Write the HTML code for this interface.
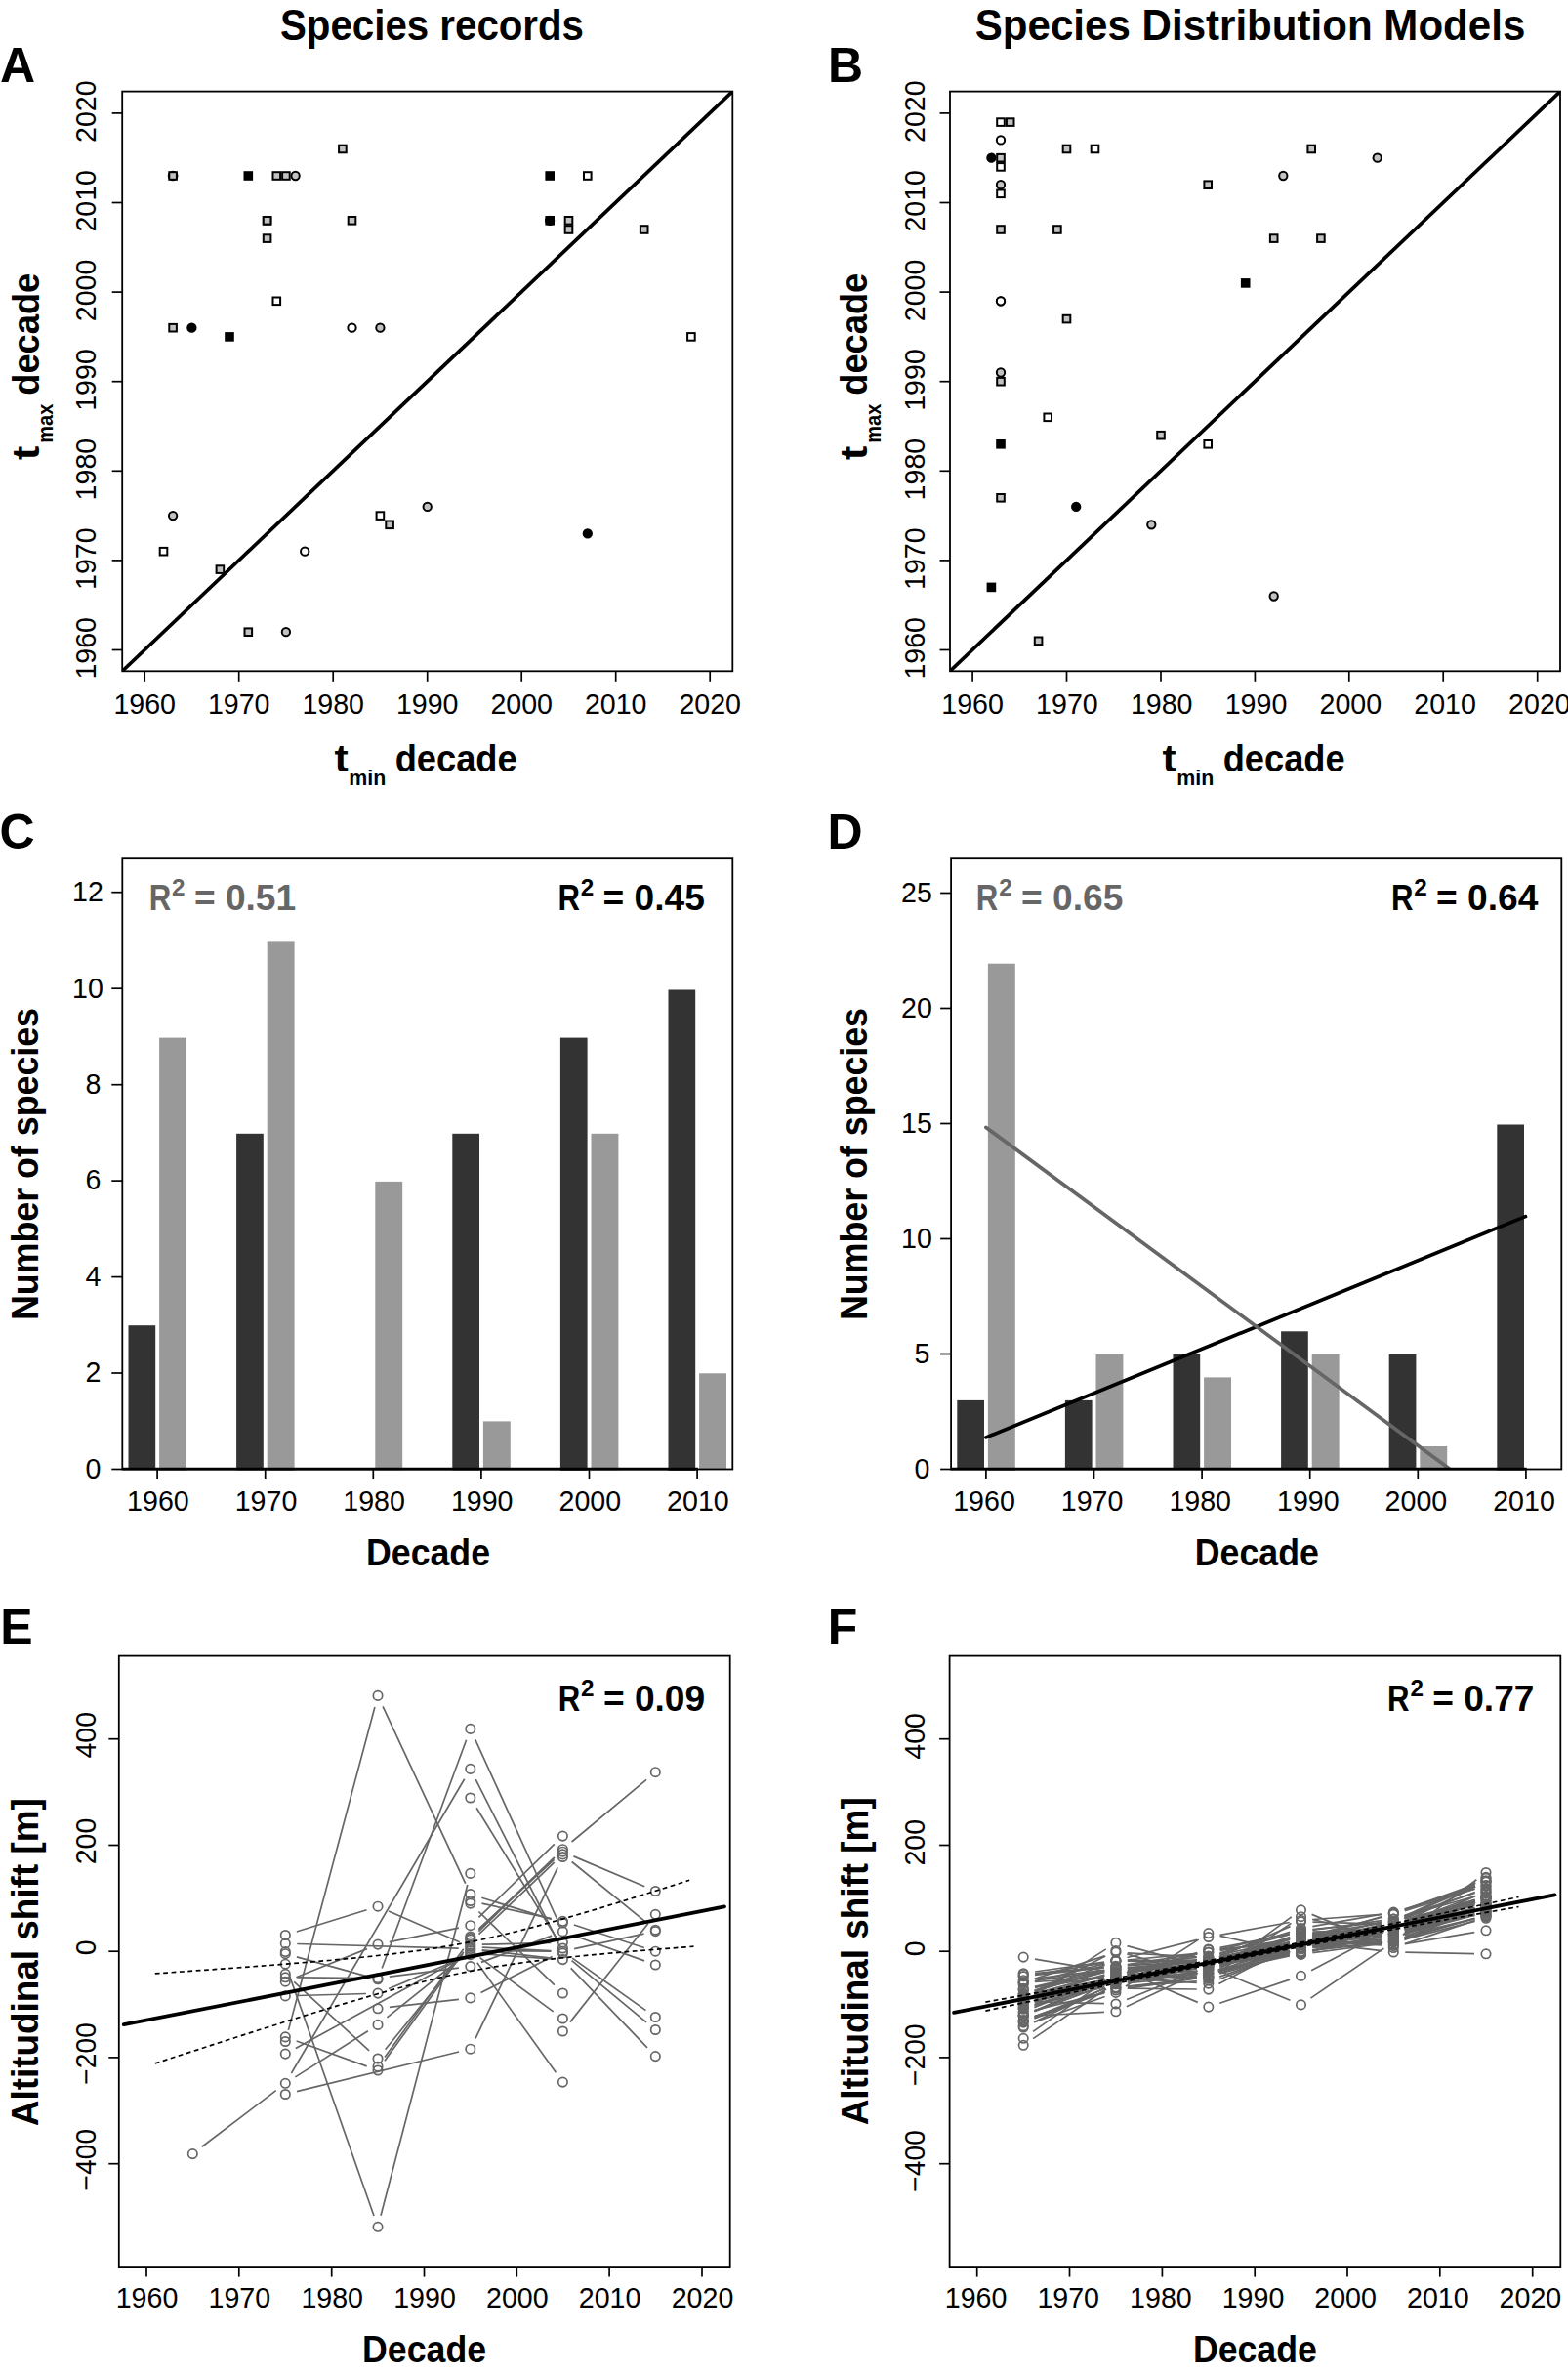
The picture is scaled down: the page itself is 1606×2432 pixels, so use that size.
<!DOCTYPE html>
<html lang="en"><head><meta charset="utf-8"><title>Figure</title>
<style>html,body{margin:0;padding:0;background:#fff}svg{display:block}</style></head>
<body>
<svg width="1606" height="2432" viewBox="0 0 1606 2432" font-family="&quot;Liberation Sans&quot;, sans-serif">
<rect width="1606" height="2432" fill="#fff"/>
<text x="287.0" y="41.3" font-size="44" font-weight="bold" textLength="311.0" lengthAdjust="spacingAndGlyphs">Species records</text>
<text x="998.8" y="41.0" font-size="44" font-weight="bold" textLength="563.5" lengthAdjust="spacingAndGlyphs">Species Distribution Models</text>
<text x="0.0" y="83.7" font-size="50" font-weight="bold">A</text>
<text x="848.0" y="83.8" font-size="50" font-weight="bold">B</text>
<text x="-0.4" y="869.3" font-size="50" font-weight="bold">C</text>
<text x="847.4" y="868.9" font-size="50" font-weight="bold">D</text>
<text x="0.2" y="1682.8" font-size="50" font-weight="bold">E</text>
<text x="847.8" y="1682.8" font-size="50" font-weight="bold">F</text>
<clipPath id="c125"><rect x="125.2" y="93.6" width="625.1" height="593.7"/></clipPath>
<line x1="120.2" y1="692.0" x2="755.3" y2="88.9" stroke="#000" stroke-width="3.7" clip-path="url(#c125)"/>
<circle cx="177.1" cy="180.0" r="4.35" fill="#fff" stroke="#000" stroke-width="2"/>
<rect x="173.3" y="176.2" width="7.6" height="7.6" fill="#c2c2c2" stroke="#000" stroke-width="2"/>
<rect x="250.5" y="176.2" width="7.6" height="7.6" fill="#000" stroke="#000" stroke-width="2"/>
<rect x="279.5" y="176.2" width="7.6" height="7.6" fill="#c2c2c2" stroke="#000" stroke-width="2"/>
<rect x="289.1" y="176.2" width="7.6" height="7.6" fill="#c2c2c2" stroke="#000" stroke-width="2"/>
<circle cx="302.6" cy="180.0" r="4.15" fill="#c2c2c2" stroke="#000" stroke-width="2"/>
<rect x="347.1" y="148.7" width="7.6" height="7.6" fill="#c2c2c2" stroke="#000" stroke-width="2"/>
<rect x="559.4" y="176.2" width="7.6" height="7.6" fill="#000" stroke="#000" stroke-width="2"/>
<rect x="598.0" y="176.2" width="7.6" height="7.6" fill="#fff" stroke="#000" stroke-width="2"/>
<rect x="269.8" y="222.0" width="7.6" height="7.6" fill="#c2c2c2" stroke="#000" stroke-width="2"/>
<rect x="269.8" y="222.0" width="7.6" height="7.6" fill="#c2c2c2" stroke="#000" stroke-width="2"/>
<rect x="269.8" y="240.3" width="7.6" height="7.6" fill="#c2c2c2" stroke="#000" stroke-width="2"/>
<rect x="356.7" y="222.0" width="7.6" height="7.6" fill="#c2c2c2" stroke="#000" stroke-width="2"/>
<rect x="559.4" y="222.0" width="7.6" height="7.6" fill="#000" stroke="#000" stroke-width="2"/>
<circle cx="563.1" cy="225.8" r="4.15" fill="#000" stroke="#000" stroke-width="2"/>
<rect x="578.7" y="222.0" width="7.6" height="7.6" fill="#c2c2c2" stroke="#000" stroke-width="2"/>
<rect x="578.7" y="231.2" width="7.6" height="7.6" fill="#c2c2c2" stroke="#000" stroke-width="2"/>
<rect x="655.9" y="231.2" width="7.6" height="7.6" fill="#c2c2c2" stroke="#000" stroke-width="2"/>
<rect x="279.5" y="304.5" width="7.6" height="7.6" fill="#fff" stroke="#000" stroke-width="2"/>
<rect x="173.3" y="331.9" width="7.6" height="7.6" fill="#c2c2c2" stroke="#000" stroke-width="2"/>
<circle cx="196.4" cy="335.7" r="4.15" fill="#000" stroke="#000" stroke-width="2"/>
<rect x="231.2" y="341.1" width="7.6" height="7.6" fill="#000" stroke="#000" stroke-width="2"/>
<circle cx="360.5" cy="335.7" r="4.15" fill="#fff" stroke="#000" stroke-width="2"/>
<circle cx="389.4" cy="335.7" r="4.15" fill="#c2c2c2" stroke="#000" stroke-width="2"/>
<rect x="704.1" y="341.1" width="7.6" height="7.6" fill="#fff" stroke="#000" stroke-width="2"/>
<circle cx="177.1" cy="528.1" r="4.15" fill="#c2c2c2" stroke="#000" stroke-width="2"/>
<rect x="163.7" y="560.9" width="7.6" height="7.6" fill="#fff" stroke="#000" stroke-width="2"/>
<rect x="221.6" y="579.3" width="7.6" height="7.6" fill="#c2c2c2" stroke="#000" stroke-width="2"/>
<circle cx="312.2" cy="564.7" r="4.15" fill="#fff" stroke="#000" stroke-width="2"/>
<rect x="385.6" y="524.3" width="7.6" height="7.6" fill="#fff" stroke="#000" stroke-width="2"/>
<rect x="395.3" y="533.5" width="7.6" height="7.6" fill="#c2c2c2" stroke="#000" stroke-width="2"/>
<circle cx="437.7" cy="518.9" r="4.15" fill="#c2c2c2" stroke="#000" stroke-width="2"/>
<circle cx="601.8" cy="546.4" r="4.15" fill="#000" stroke="#000" stroke-width="2"/>
<rect x="250.5" y="643.4" width="7.6" height="7.6" fill="#c2c2c2" stroke="#000" stroke-width="2"/>
<circle cx="292.9" cy="647.2" r="4.15" fill="#c2c2c2" stroke="#000" stroke-width="2"/>
<rect x="125.2" y="93.6" width="625.1" height="593.7" fill="none" stroke="#000" stroke-width="1.8"/>
<line x1="148.2" y1="687.3" x2="148.2" y2="697.8" stroke="#000" stroke-width="1.7"/>
<text x="148.2" y="731.1" font-size="28.6" text-anchor="middle" textLength="63.6" lengthAdjust="spacingAndGlyphs">1960</text>
<line x1="114.7" y1="665.5" x2="125.2" y2="665.5" stroke="#000" stroke-width="1.7"/>
<text transform="translate(97.8,663.8) rotate(-90)" font-size="28.6" text-anchor="middle" textLength="63.6" lengthAdjust="spacingAndGlyphs">1960</text>
<line x1="244.7" y1="687.3" x2="244.7" y2="697.8" stroke="#000" stroke-width="1.7"/>
<text x="244.7" y="731.1" font-size="28.6" text-anchor="middle" textLength="63.6" lengthAdjust="spacingAndGlyphs">1970</text>
<line x1="114.7" y1="573.9" x2="125.2" y2="573.9" stroke="#000" stroke-width="1.7"/>
<text transform="translate(97.8,572.2) rotate(-90)" font-size="28.6" text-anchor="middle" textLength="63.6" lengthAdjust="spacingAndGlyphs">1970</text>
<line x1="341.2" y1="687.3" x2="341.2" y2="697.8" stroke="#000" stroke-width="1.7"/>
<text x="341.2" y="731.1" font-size="28.6" text-anchor="middle" textLength="63.6" lengthAdjust="spacingAndGlyphs">1980</text>
<line x1="114.7" y1="482.3" x2="125.2" y2="482.3" stroke="#000" stroke-width="1.7"/>
<text transform="translate(97.8,480.6) rotate(-90)" font-size="28.6" text-anchor="middle" textLength="63.6" lengthAdjust="spacingAndGlyphs">1980</text>
<line x1="437.7" y1="687.3" x2="437.7" y2="697.8" stroke="#000" stroke-width="1.7"/>
<text x="437.7" y="731.1" font-size="28.6" text-anchor="middle" textLength="63.6" lengthAdjust="spacingAndGlyphs">1990</text>
<line x1="114.7" y1="390.7" x2="125.2" y2="390.7" stroke="#000" stroke-width="1.7"/>
<text transform="translate(97.8,389.0) rotate(-90)" font-size="28.6" text-anchor="middle" textLength="63.6" lengthAdjust="spacingAndGlyphs">1990</text>
<line x1="534.2" y1="687.3" x2="534.2" y2="697.8" stroke="#000" stroke-width="1.7"/>
<text x="534.2" y="731.1" font-size="28.6" text-anchor="middle" textLength="63.6" lengthAdjust="spacingAndGlyphs">2000</text>
<line x1="114.7" y1="299.1" x2="125.2" y2="299.1" stroke="#000" stroke-width="1.7"/>
<text transform="translate(97.8,297.4) rotate(-90)" font-size="28.6" text-anchor="middle" textLength="63.6" lengthAdjust="spacingAndGlyphs">2000</text>
<line x1="630.7" y1="687.3" x2="630.7" y2="697.8" stroke="#000" stroke-width="1.7"/>
<text x="630.7" y="731.1" font-size="28.6" text-anchor="middle" textLength="63.6" lengthAdjust="spacingAndGlyphs">2010</text>
<line x1="114.7" y1="207.5" x2="125.2" y2="207.5" stroke="#000" stroke-width="1.7"/>
<text transform="translate(97.8,205.8) rotate(-90)" font-size="28.6" text-anchor="middle" textLength="63.6" lengthAdjust="spacingAndGlyphs">2010</text>
<line x1="727.2" y1="687.3" x2="727.2" y2="697.8" stroke="#000" stroke-width="1.7"/>
<text x="727.2" y="731.1" font-size="28.6" text-anchor="middle" textLength="63.6" lengthAdjust="spacingAndGlyphs">2020</text>
<line x1="114.7" y1="115.9" x2="125.2" y2="115.9" stroke="#000" stroke-width="1.7"/>
<text transform="translate(97.8,114.2) rotate(-90)" font-size="28.6" text-anchor="middle" textLength="63.6" lengthAdjust="spacingAndGlyphs">2020</text>
<clipPath id="c973"><rect x="973.0" y="93.6" width="625.0" height="593.7"/></clipPath>
<line x1="968.0" y1="692.0" x2="1603.0" y2="88.9" stroke="#000" stroke-width="3.7" clip-path="url(#c973)"/>
<rect x="1021.2" y="121.3" width="7.6" height="7.6" fill="#fff" stroke="#000" stroke-width="2"/>
<rect x="1030.9" y="121.3" width="7.6" height="7.6" fill="#c2c2c2" stroke="#000" stroke-width="2"/>
<circle cx="1025.0" cy="143.4" r="4.15" fill="#fff" stroke="#000" stroke-width="2"/>
<circle cx="1015.4" cy="161.7" r="4.15" fill="#000" stroke="#000" stroke-width="2"/>
<rect x="1021.2" y="157.9" width="7.6" height="7.6" fill="#c2c2c2" stroke="#000" stroke-width="2"/>
<rect x="1021.2" y="167.1" width="7.6" height="7.6" fill="#fff" stroke="#000" stroke-width="2"/>
<circle cx="1025.0" cy="189.2" r="4.15" fill="#c2c2c2" stroke="#000" stroke-width="2"/>
<rect x="1021.2" y="194.5" width="7.6" height="7.6" fill="#fff" stroke="#000" stroke-width="2"/>
<rect x="1021.2" y="231.2" width="7.6" height="7.6" fill="#c2c2c2" stroke="#000" stroke-width="2"/>
<rect x="1088.7" y="148.7" width="7.6" height="7.6" fill="#c2c2c2" stroke="#000" stroke-width="2"/>
<rect x="1117.7" y="148.7" width="7.6" height="7.6" fill="#fff" stroke="#000" stroke-width="2"/>
<rect x="1339.4" y="148.7" width="7.6" height="7.6" fill="#c2c2c2" stroke="#000" stroke-width="2"/>
<circle cx="1410.7" cy="161.7" r="4.15" fill="#c2c2c2" stroke="#000" stroke-width="2"/>
<circle cx="1314.3" cy="180.0" r="4.15" fill="#c2c2c2" stroke="#000" stroke-width="2"/>
<rect x="1233.4" y="185.4" width="7.6" height="7.6" fill="#c2c2c2" stroke="#000" stroke-width="2"/>
<rect x="1079.1" y="231.2" width="7.6" height="7.6" fill="#c2c2c2" stroke="#000" stroke-width="2"/>
<rect x="1300.9" y="240.3" width="7.6" height="7.6" fill="#c2c2c2" stroke="#000" stroke-width="2"/>
<rect x="1349.1" y="240.3" width="7.6" height="7.6" fill="#c2c2c2" stroke="#000" stroke-width="2"/>
<rect x="1271.9" y="286.1" width="7.6" height="7.6" fill="#000" stroke="#000" stroke-width="2"/>
<circle cx="1025.0" cy="308.3" r="4.15" fill="#fff" stroke="#000" stroke-width="2"/>
<circle cx="1025.0" cy="308.3" r="4.15" fill="#fff" stroke="#000" stroke-width="2"/>
<rect x="1088.7" y="322.8" width="7.6" height="7.6" fill="#c2c2c2" stroke="#000" stroke-width="2"/>
<circle cx="1025.0" cy="381.5" r="4.15" fill="#c2c2c2" stroke="#000" stroke-width="2"/>
<rect x="1021.2" y="386.9" width="7.6" height="7.6" fill="#c2c2c2" stroke="#000" stroke-width="2"/>
<rect x="1069.4" y="423.5" width="7.6" height="7.6" fill="#fff" stroke="#000" stroke-width="2"/>
<rect x="1185.2" y="441.9" width="7.6" height="7.6" fill="#c2c2c2" stroke="#000" stroke-width="2"/>
<rect x="1233.4" y="451.0" width="7.6" height="7.6" fill="#fff" stroke="#000" stroke-width="2"/>
<rect x="1021.2" y="451.0" width="7.6" height="7.6" fill="#000" stroke="#000" stroke-width="2"/>
<rect x="1021.2" y="506.0" width="7.6" height="7.6" fill="#c2c2c2" stroke="#000" stroke-width="2"/>
<circle cx="1102.2" cy="518.9" r="4.15" fill="#000" stroke="#000" stroke-width="2"/>
<circle cx="1179.3" cy="537.3" r="4.15" fill="#c2c2c2" stroke="#000" stroke-width="2"/>
<rect x="1011.6" y="597.6" width="7.6" height="7.6" fill="#000" stroke="#000" stroke-width="2"/>
<circle cx="1304.7" cy="610.5" r="4.15" fill="#c2c2c2" stroke="#000" stroke-width="2"/>
<rect x="1059.8" y="652.5" width="7.6" height="7.6" fill="#c2c2c2" stroke="#000" stroke-width="2"/>
<rect x="973.0" y="93.6" width="625.0" height="593.7" fill="none" stroke="#000" stroke-width="1.8"/>
<line x1="996.1" y1="687.3" x2="996.1" y2="697.8" stroke="#000" stroke-width="1.7"/>
<text x="996.1" y="731.1" font-size="28.6" text-anchor="middle" textLength="63.6" lengthAdjust="spacingAndGlyphs">1960</text>
<line x1="962.5" y1="665.5" x2="973.0" y2="665.5" stroke="#000" stroke-width="1.7"/>
<text transform="translate(946.8,663.8) rotate(-90)" font-size="28.6" text-anchor="middle" textLength="63.6" lengthAdjust="spacingAndGlyphs">1960</text>
<line x1="1092.5" y1="687.3" x2="1092.5" y2="697.8" stroke="#000" stroke-width="1.7"/>
<text x="1092.9" y="731.1" font-size="28.6" text-anchor="middle" textLength="63.6" lengthAdjust="spacingAndGlyphs">1970</text>
<line x1="962.5" y1="573.9" x2="973.0" y2="573.9" stroke="#000" stroke-width="1.7"/>
<text transform="translate(946.8,572.2) rotate(-90)" font-size="28.6" text-anchor="middle" textLength="63.6" lengthAdjust="spacingAndGlyphs">1970</text>
<line x1="1189.0" y1="687.3" x2="1189.0" y2="697.8" stroke="#000" stroke-width="1.7"/>
<text x="1189.7" y="731.1" font-size="28.6" text-anchor="middle" textLength="63.6" lengthAdjust="spacingAndGlyphs">1980</text>
<line x1="962.5" y1="482.3" x2="973.0" y2="482.3" stroke="#000" stroke-width="1.7"/>
<text transform="translate(946.8,480.6) rotate(-90)" font-size="28.6" text-anchor="middle" textLength="63.6" lengthAdjust="spacingAndGlyphs">1980</text>
<line x1="1285.4" y1="687.3" x2="1285.4" y2="697.8" stroke="#000" stroke-width="1.7"/>
<text x="1286.5" y="731.1" font-size="28.6" text-anchor="middle" textLength="63.6" lengthAdjust="spacingAndGlyphs">1990</text>
<line x1="962.5" y1="390.7" x2="973.0" y2="390.7" stroke="#000" stroke-width="1.7"/>
<text transform="translate(946.8,389.0) rotate(-90)" font-size="28.6" text-anchor="middle" textLength="63.6" lengthAdjust="spacingAndGlyphs">1990</text>
<line x1="1381.8" y1="687.3" x2="1381.8" y2="697.8" stroke="#000" stroke-width="1.7"/>
<text x="1383.3" y="731.1" font-size="28.6" text-anchor="middle" textLength="63.6" lengthAdjust="spacingAndGlyphs">2000</text>
<line x1="962.5" y1="299.1" x2="973.0" y2="299.1" stroke="#000" stroke-width="1.7"/>
<text transform="translate(946.8,297.4) rotate(-90)" font-size="28.6" text-anchor="middle" textLength="63.6" lengthAdjust="spacingAndGlyphs">2000</text>
<line x1="1478.2" y1="687.3" x2="1478.2" y2="697.8" stroke="#000" stroke-width="1.7"/>
<text x="1480.1" y="731.1" font-size="28.6" text-anchor="middle" textLength="63.6" lengthAdjust="spacingAndGlyphs">2010</text>
<line x1="962.5" y1="207.5" x2="973.0" y2="207.5" stroke="#000" stroke-width="1.7"/>
<text transform="translate(946.8,205.8) rotate(-90)" font-size="28.6" text-anchor="middle" textLength="63.6" lengthAdjust="spacingAndGlyphs">2010</text>
<line x1="1574.7" y1="687.3" x2="1574.7" y2="697.8" stroke="#000" stroke-width="1.7"/>
<text x="1576.9" y="731.1" font-size="28.6" text-anchor="middle" textLength="63.6" lengthAdjust="spacingAndGlyphs">2020</text>
<line x1="962.5" y1="115.9" x2="973.0" y2="115.9" stroke="#000" stroke-width="1.7"/>
<text transform="translate(946.8,114.2) rotate(-90)" font-size="28.6" text-anchor="middle" textLength="63.6" lengthAdjust="spacingAndGlyphs">2020</text>
<text x="342.4" y="789.7" font-size="38" font-weight="bold" textLength="14.2" lengthAdjust="spacingAndGlyphs">t</text>
<text x="357.3" y="803.5" font-size="22" font-weight="bold" textLength="38.0" lengthAdjust="spacingAndGlyphs">min</text>
<text x="404.7" y="789.7" font-size="38" font-weight="bold" textLength="125.0" lengthAdjust="spacingAndGlyphs">decade</text>
<text transform="translate(39.5,471.0) rotate(-90)" font-size="38" font-weight="bold" textLength="14.2" lengthAdjust="spacingAndGlyphs">t</text>
<text transform="translate(53.6,453.7) rotate(-90)" font-size="22" font-weight="bold" textLength="40.0" lengthAdjust="spacingAndGlyphs">max</text>
<text transform="translate(39.5,404.7) rotate(-90)" font-size="38" font-weight="bold" textLength="125.0" lengthAdjust="spacingAndGlyphs">decade</text>
<text x="1190.4" y="789.7" font-size="38" font-weight="bold" textLength="14.2" lengthAdjust="spacingAndGlyphs">t</text>
<text x="1205.3" y="803.5" font-size="22" font-weight="bold" textLength="38.0" lengthAdjust="spacingAndGlyphs">min</text>
<text x="1252.7" y="789.7" font-size="38" font-weight="bold" textLength="125.0" lengthAdjust="spacingAndGlyphs">decade</text>
<text transform="translate(887.5,471.0) rotate(-90)" font-size="38" font-weight="bold" textLength="14.2" lengthAdjust="spacingAndGlyphs">t</text>
<text transform="translate(901.6,453.7) rotate(-90)" font-size="22" font-weight="bold" textLength="40.0" lengthAdjust="spacingAndGlyphs">max</text>
<text transform="translate(887.5,404.7) rotate(-90)" font-size="38" font-weight="bold" textLength="125.0" lengthAdjust="spacingAndGlyphs">decade</text>
<rect  x="131.5" y="1357.2" width="27.7" height="147.7" fill="#333"/>
<rect  x="163.1" y="1062.6" width="27.9" height="443.1" fill="#999"/>
<rect  x="242.1" y="1160.8" width="27.7" height="344.6" fill="#333"/>
<rect  x="273.7" y="964.4" width="27.9" height="541.5" fill="#999"/>
<rect  x="384.3" y="1209.9" width="27.9" height="295.4" fill="#999"/>
<rect  x="463.3" y="1160.8" width="27.7" height="344.6" fill="#333"/>
<rect  x="494.9" y="1455.4" width="27.9" height="49.2" fill="#999"/>
<rect  x="573.9" y="1062.6" width="27.7" height="443.1" fill="#333"/>
<rect  x="605.5" y="1160.8" width="27.9" height="344.6" fill="#999"/>
<rect  x="684.5" y="1013.5" width="27.7" height="492.3" fill="#333"/>
<rect  x="716.1" y="1406.3" width="27.9" height="98.5" fill="#999"/>
<clipPath id="c125"><rect x="125.3" y="879.2" width="625.0" height="625.1"/></clipPath>
<line x1="161.3" y1="1378.2" x2="713.9" y2="1040.2" stroke="#000" stroke-width="3.7" stroke-linecap="round" clip-path="url(#c125)"/>
<line x1="161.3" y1="1026.4" x2="713.9" y2="1392.0" stroke="#666" stroke-width="3.7" stroke-linecap="round" clip-path="url(#c125)"/>
<rect x="125.3" y="879.2" width="625.0" height="625.3" fill="none" stroke="#000" stroke-width="1.8"/>
<line x1="125.3" y1="1504.2" x2="714.9" y2="1504.2" stroke="#000" stroke-width="2.8"/>
<line x1="161.1" y1="1503.9" x2="161.1" y2="1514.9" stroke="#000" stroke-width="1.7"/>
<text x="161.9" y="1547.0" font-size="28.6" text-anchor="middle" textLength="63.6" lengthAdjust="spacingAndGlyphs">1960</text>
<line x1="271.7" y1="1503.9" x2="271.7" y2="1514.9" stroke="#000" stroke-width="1.7"/>
<text x="272.5" y="1547.0" font-size="28.6" text-anchor="middle" textLength="63.6" lengthAdjust="spacingAndGlyphs">1970</text>
<line x1="382.3" y1="1503.9" x2="382.3" y2="1514.9" stroke="#000" stroke-width="1.7"/>
<text x="383.1" y="1547.0" font-size="28.6" text-anchor="middle" textLength="63.6" lengthAdjust="spacingAndGlyphs">1980</text>
<line x1="492.9" y1="1503.9" x2="492.9" y2="1514.9" stroke="#000" stroke-width="1.7"/>
<text x="493.7" y="1547.0" font-size="28.6" text-anchor="middle" textLength="63.6" lengthAdjust="spacingAndGlyphs">1990</text>
<line x1="603.5" y1="1503.9" x2="603.5" y2="1514.9" stroke="#000" stroke-width="1.7"/>
<text x="604.3" y="1547.0" font-size="28.6" text-anchor="middle" textLength="63.6" lengthAdjust="spacingAndGlyphs">2000</text>
<line x1="714.1" y1="1503.9" x2="714.1" y2="1514.9" stroke="#000" stroke-width="1.7"/>
<text x="714.9" y="1547.0" font-size="28.6" text-anchor="middle" textLength="63.6" lengthAdjust="spacingAndGlyphs">2010</text>
<line x1="114.3" y1="1504.5" x2="125.3" y2="1504.5" stroke="#000" stroke-width="1.7"/>
<text x="103.5" y="1513.8" font-size="28.6" text-anchor="end" textLength="15.9" lengthAdjust="spacingAndGlyphs">0</text>
<line x1="114.3" y1="1406.0" x2="125.3" y2="1406.0" stroke="#000" stroke-width="1.7"/>
<text x="103.5" y="1415.3" font-size="28.6" text-anchor="end" textLength="15.9" lengthAdjust="spacingAndGlyphs">2</text>
<line x1="114.3" y1="1307.6" x2="125.3" y2="1307.6" stroke="#000" stroke-width="1.7"/>
<text x="103.5" y="1316.9" font-size="28.6" text-anchor="end" textLength="15.9" lengthAdjust="spacingAndGlyphs">4</text>
<line x1="114.3" y1="1209.1" x2="125.3" y2="1209.1" stroke="#000" stroke-width="1.7"/>
<text x="103.5" y="1218.4" font-size="28.6" text-anchor="end" textLength="15.9" lengthAdjust="spacingAndGlyphs">6</text>
<line x1="114.3" y1="1110.7" x2="125.3" y2="1110.7" stroke="#000" stroke-width="1.7"/>
<text x="103.5" y="1120.0" font-size="28.6" text-anchor="end" textLength="15.9" lengthAdjust="spacingAndGlyphs">8</text>
<line x1="114.3" y1="1012.2" x2="125.3" y2="1012.2" stroke="#000" stroke-width="1.7"/>
<text x="105.9" y="1021.5" font-size="28.6" text-anchor="end" textLength="31.8" lengthAdjust="spacingAndGlyphs">10</text>
<line x1="114.3" y1="913.7" x2="125.3" y2="913.7" stroke="#000" stroke-width="1.7"/>
<text x="105.9" y="923.0" font-size="28.6" text-anchor="end" textLength="31.8" lengthAdjust="spacingAndGlyphs">12</text>
<text x="152.7" y="931.7" font-size="37" font-weight="bold" fill="#666" textLength="22.5" lengthAdjust="spacingAndGlyphs">R</text>
<text x="176.1" y="917.3" font-size="23" font-weight="bold" fill="#666" textLength="13.5" lengthAdjust="spacingAndGlyphs">2</text>
<text x="198.9" y="931.7" font-size="37" font-weight="bold" fill="#666" textLength="104.3" lengthAdjust="spacingAndGlyphs">= 0.51</text>
<text x="571.4" y="931.7" font-size="37" font-weight="bold" textLength="22.5" lengthAdjust="spacingAndGlyphs">R</text>
<text x="594.8" y="917.3" font-size="23" font-weight="bold" textLength="13.5" lengthAdjust="spacingAndGlyphs">2</text>
<text x="617.6" y="931.7" font-size="37" font-weight="bold" textLength="104.3" lengthAdjust="spacingAndGlyphs">= 0.45</text>
<rect  x="980.3" y="1433.9" width="27.7" height="70.8" fill="#333"/>
<rect  x="1011.9" y="986.7" width="27.9" height="519.2" fill="#999"/>
<rect  x="1090.9" y="1433.9" width="27.7" height="70.8" fill="#333"/>
<rect  x="1122.5" y="1386.8" width="27.9" height="118.0" fill="#999"/>
<rect  x="1201.5" y="1386.8" width="27.7" height="118.0" fill="#333"/>
<rect  x="1233.1" y="1410.4" width="27.9" height="94.4" fill="#999"/>
<rect  x="1312.1" y="1363.3" width="27.7" height="141.6" fill="#333"/>
<rect  x="1343.7" y="1386.8" width="27.9" height="118.0" fill="#999"/>
<rect  x="1422.7" y="1386.8" width="27.7" height="118.0" fill="#333"/>
<rect  x="1454.3" y="1481.0" width="27.9" height="23.6" fill="#999"/>
<rect  x="1533.3" y="1151.5" width="27.7" height="354.0" fill="#333"/>
<clipPath id="c974"><rect x="974.1" y="879.2" width="625.2" height="625.1"/></clipPath>
<line x1="1009.9" y1="1471.9" x2="1562.5" y2="1245.6" stroke="#000" stroke-width="3.7" stroke-linecap="round" clip-path="url(#c974)"/>
<line x1="1009.9" y1="1154.4" x2="1492.0" y2="1509.5" stroke="#666" stroke-width="3.7" stroke-linecap="round" clip-path="url(#c974)"/>
<rect x="974.1" y="879.2" width="625.2" height="625.3" fill="none" stroke="#000" stroke-width="1.8"/>
<line x1="974.1" y1="1504.2" x2="1563.7" y2="1504.2" stroke="#000" stroke-width="2.8"/>
<line x1="1009.9" y1="1503.9" x2="1009.9" y2="1514.9" stroke="#000" stroke-width="1.7"/>
<text x="1008.0" y="1547.0" font-size="28.6" text-anchor="middle" textLength="63.6" lengthAdjust="spacingAndGlyphs">1960</text>
<line x1="1120.5" y1="1503.9" x2="1120.5" y2="1514.9" stroke="#000" stroke-width="1.7"/>
<text x="1118.6" y="1547.0" font-size="28.6" text-anchor="middle" textLength="63.6" lengthAdjust="spacingAndGlyphs">1970</text>
<line x1="1231.1" y1="1503.9" x2="1231.1" y2="1514.9" stroke="#000" stroke-width="1.7"/>
<text x="1229.2" y="1547.0" font-size="28.6" text-anchor="middle" textLength="63.6" lengthAdjust="spacingAndGlyphs">1980</text>
<line x1="1341.7" y1="1503.9" x2="1341.7" y2="1514.9" stroke="#000" stroke-width="1.7"/>
<text x="1339.8" y="1547.0" font-size="28.6" text-anchor="middle" textLength="63.6" lengthAdjust="spacingAndGlyphs">1990</text>
<line x1="1452.3" y1="1503.9" x2="1452.3" y2="1514.9" stroke="#000" stroke-width="1.7"/>
<text x="1450.4" y="1547.0" font-size="28.6" text-anchor="middle" textLength="63.6" lengthAdjust="spacingAndGlyphs">2000</text>
<line x1="1562.9" y1="1503.9" x2="1562.9" y2="1514.9" stroke="#000" stroke-width="1.7"/>
<text x="1561.0" y="1547.0" font-size="28.6" text-anchor="middle" textLength="63.6" lengthAdjust="spacingAndGlyphs">2010</text>
<line x1="963.1" y1="1504.5" x2="974.1" y2="1504.5" stroke="#000" stroke-width="1.7"/>
<text x="952.4" y="1513.8" font-size="28.6" text-anchor="end" textLength="15.9" lengthAdjust="spacingAndGlyphs">0</text>
<line x1="963.1" y1="1386.5" x2="974.1" y2="1386.5" stroke="#000" stroke-width="1.7"/>
<text x="952.4" y="1395.8" font-size="28.6" text-anchor="end" textLength="15.9" lengthAdjust="spacingAndGlyphs">5</text>
<line x1="963.1" y1="1268.5" x2="974.1" y2="1268.5" stroke="#000" stroke-width="1.7"/>
<text x="954.8" y="1277.8" font-size="28.6" text-anchor="end" textLength="31.8" lengthAdjust="spacingAndGlyphs">10</text>
<line x1="963.1" y1="1150.5" x2="974.1" y2="1150.5" stroke="#000" stroke-width="1.7"/>
<text x="954.8" y="1159.8" font-size="28.6" text-anchor="end" textLength="31.8" lengthAdjust="spacingAndGlyphs">15</text>
<line x1="963.1" y1="1032.5" x2="974.1" y2="1032.5" stroke="#000" stroke-width="1.7"/>
<text x="954.8" y="1041.8" font-size="28.6" text-anchor="end" textLength="31.8" lengthAdjust="spacingAndGlyphs">20</text>
<line x1="963.1" y1="914.5" x2="974.1" y2="914.5" stroke="#000" stroke-width="1.7"/>
<text x="954.8" y="923.8" font-size="28.6" text-anchor="end" textLength="31.8" lengthAdjust="spacingAndGlyphs">25</text>
<text x="999.8" y="931.7" font-size="37" font-weight="bold" fill="#666" textLength="22.5" lengthAdjust="spacingAndGlyphs">R</text>
<text x="1023.2" y="917.3" font-size="23" font-weight="bold" fill="#666" textLength="13.5" lengthAdjust="spacingAndGlyphs">2</text>
<text x="1046.0" y="931.7" font-size="37" font-weight="bold" fill="#666" textLength="104.3" lengthAdjust="spacingAndGlyphs">= 0.65</text>
<text x="1424.9" y="931.7" font-size="37" font-weight="bold" textLength="22.5" lengthAdjust="spacingAndGlyphs">R</text>
<text x="1448.3" y="917.3" font-size="23" font-weight="bold" textLength="13.5" lengthAdjust="spacingAndGlyphs">2</text>
<text x="1471.1" y="931.7" font-size="37" font-weight="bold" textLength="104.3" lengthAdjust="spacingAndGlyphs">= 0.64</text>
<text x="438.5" y="1602.9" font-size="38" font-weight="bold" text-anchor="middle" textLength="127.0" lengthAdjust="spacingAndGlyphs">Decade</text>
<text transform="translate(38.9,1192.0) rotate(-90)" font-size="38" font-weight="bold" text-anchor="middle" textLength="320.0" lengthAdjust="spacingAndGlyphs">Number of species</text>
<text x="1287.3" y="1602.9" font-size="38" font-weight="bold" text-anchor="middle" textLength="127.0" lengthAdjust="spacingAndGlyphs">Decade</text>
<text transform="translate(887.7,1192.0) rotate(-90)" font-size="38" font-weight="bold" text-anchor="middle" textLength="320.0" lengthAdjust="spacingAndGlyphs">Number of species</text>
<g fill="none" stroke="#666" stroke-width="1.7">
<path d="M206.8 2198.3L282.8 2140.6"/>
<path d="M302.4 2126.9L376.9 2079.8"/>
<path d="M396.4 2065.9L472.4 2005.0"/>
<path d="M493.8 1997.6L564.4 1998.1"/>
<path d="M303.8 1978.0L375.5 1955.7"/>
<path d="M398.0 1957.0L470.8 1988.7"/>
<path d="M304.3 1990.5L469.8 1995.2"/>
<path d="M303.9 2003.9L375.4 2023.6"/>
<path d="M391.2 2015.5L477.6 1781.7"/>
<path d="M486.8 1781.3L571.4 1967.0"/>
<path d="M296.3 2022.5L383.0 2269.0"/>
<path d="M390.0 2268.7L478.8 1930.0"/>
<path d="M303.4 2024.7L375.9 1995.6"/>
<path d="M398.8 1988.7L470.0 1974.1"/>
<path d="M490.4 1963.4L567.8 1888.4"/>
<path d="M304.3 2024.9L375.0 2025.6"/>
<path d="M398.9 2024.2L469.9 2015.1"/>
<path d="M493.0 2009.4L565.2 1982.1"/>
<path d="M301.2 2029.4L378.1 2099.9"/>
<path d="M394.6 2098.7L474.2 2000.8"/>
<path d="M493.8 1991.2L564.4 1989.4"/>
<path d="M304.3 2043.5L375.0 2041.5"/>
<path d="M398.1 2036.5L470.7 2006.3"/>
<path d="M295.4 2078.9L383.9 1748.0"/>
<path d="M392.1 1747.3L476.7 1928.7"/>
<path d="M493.3 1943.2L564.9 1965.4"/>
<path d="M303.6 2090.0L375.7 2115.9"/>
<path d="M394.0 2110.3L474.8 1998.7"/>
<path d="M490.5 1980.7L567.7 1907.2"/>
<path d="M585.7 1906.5L662.0 1968.6"/>
<path d="M302.8 2097.4L471.3 2005.7"/>
<path d="M488.8 2009.8L569.4 2122.3"/>
<path d="M298.4 2123.0L475.7 1821.7"/>
<path d="M487.2 1822.1L571.0 1987.5"/>
<path d="M586.2 2005.1L661.5 2058.6"/>
<path d="M304.0 2141.7L470.1 2101.0"/>
<path d="M487.0 2087.4L571.2 1912.3"/>
<path d="M398.9 2055.4L469.9 2047.3"/>
<path d="M492.5 2040.5L565.7 2003.6"/>
<path d="M588.1 1995.7L659.6 1980.1"/>
<path d="M394.1 2106.5L474.7 1995.7"/>
<path d="M490.4 1977.6L567.8 1902.1"/>
<path d="M488.1 1851.2L570.1 1984.8"/>
<path d="M490.4 1957.5L567.8 2032.6"/>
<path d="M493.5 1949.1L564.7 1964.7"/>
<path d="M587.8 1971.0L659.9 1994.5"/>
<path d="M490.6 1974.9L567.6 1904.3"/>
<path d="M587.4 1900.9L660.3 1931.8"/>
<path d="M491.5 2004.6L566.7 2059.9"/>
<path d="M490.5 1976.2L567.7 1902.0"/>
<path d="M585.6 1886.0L662.1 1822.4"/>
<path d="M587.7 1982.0L660.0 2007.9"/>
<path d="M585.6 2007.6L662.1 2070.9"/>
<path d="M584.7 2015.3L663.0 2096.9"/>
<path d="M583.9 2070.6L663.8 1969.7"/>
<path d="M493.8 2000.8L564.4 2005.8"/>
<path d="M493.8 1994.1L564.4 1997.6"/>
<path d="M493.7 1996.9L564.5 2005.2"/>
<circle cx="197.3" cy="2205.6" r="4.7"/>
<circle cx="292.3" cy="2133.3" r="4.7"/>
<circle cx="387.0" cy="2073.4" r="4.7"/>
<circle cx="481.8" cy="1997.5" r="4.7"/>
<circle cx="576.4" cy="1998.2" r="4.7"/>
<circle cx="292.3" cy="1981.5" r="4.7"/>
<circle cx="387.0" cy="1952.2" r="4.7"/>
<circle cx="481.8" cy="1993.5" r="4.7"/>
<circle cx="292.3" cy="1990.2" r="4.7"/>
<circle cx="481.8" cy="1995.5" r="4.7"/>
<circle cx="292.3" cy="2000.7" r="4.7"/>
<circle cx="387.0" cy="2026.8" r="4.7"/>
<circle cx="481.8" cy="1770.4" r="4.7"/>
<circle cx="576.4" cy="1977.9" r="4.7"/>
<circle cx="292.3" cy="2011.2" r="4.7"/>
<circle cx="387.0" cy="2280.3" r="4.7"/>
<circle cx="481.8" cy="1918.4" r="4.7"/>
<circle cx="292.3" cy="2029.2" r="4.7"/>
<circle cx="387.0" cy="1991.1" r="4.7"/>
<circle cx="481.8" cy="1971.7" r="4.7"/>
<circle cx="576.4" cy="1880.1" r="4.7"/>
<circle cx="292.3" cy="2024.8" r="4.7"/>
<circle cx="387.0" cy="2025.7" r="4.7"/>
<circle cx="481.8" cy="2013.6" r="4.7"/>
<circle cx="292.3" cy="2021.3" r="4.7"/>
<circle cx="387.0" cy="2108.0" r="4.7"/>
<circle cx="481.8" cy="1991.5" r="4.7"/>
<circle cx="576.4" cy="1989.1" r="4.7"/>
<circle cx="292.3" cy="2043.9" r="4.7"/>
<circle cx="387.0" cy="2041.1" r="4.7"/>
<circle cx="481.8" cy="2001.7" r="4.7"/>
<circle cx="292.3" cy="2090.5" r="4.7"/>
<circle cx="387.0" cy="1736.4" r="4.7"/>
<circle cx="481.8" cy="1939.6" r="4.7"/>
<circle cx="576.4" cy="1969.0" r="4.7"/>
<circle cx="292.3" cy="2085.9" r="4.7"/>
<circle cx="387.0" cy="2120.0" r="4.7"/>
<circle cx="481.8" cy="1989.0" r="4.7"/>
<circle cx="576.4" cy="1898.9" r="4.7"/>
<circle cx="671.3" cy="1976.2" r="4.7"/>
<circle cx="292.3" cy="2103.1" r="4.7"/>
<circle cx="481.8" cy="2000.0" r="4.7"/>
<circle cx="576.4" cy="2132.1" r="4.7"/>
<circle cx="481.8" cy="1811.4" r="4.7"/>
<circle cx="671.3" cy="2065.5" r="4.7"/>
<circle cx="292.3" cy="2144.5" r="4.7"/>
<circle cx="481.8" cy="2098.2" r="4.7"/>
<circle cx="576.4" cy="1901.5" r="4.7"/>
<circle cx="387.0" cy="2056.8" r="4.7"/>
<circle cx="481.8" cy="2045.9" r="4.7"/>
<circle cx="671.3" cy="1977.6" r="4.7"/>
<circle cx="387.0" cy="2116.2" r="4.7"/>
<circle cx="481.8" cy="1986.0" r="4.7"/>
<circle cx="576.4" cy="1893.7" r="4.7"/>
<circle cx="481.8" cy="1841.0" r="4.7"/>
<circle cx="576.4" cy="1995.0" r="4.7"/>
<circle cx="481.8" cy="1949.1" r="4.7"/>
<circle cx="576.4" cy="2041.0" r="4.7"/>
<circle cx="481.8" cy="1946.5" r="4.7"/>
<circle cx="576.4" cy="1967.3" r="4.7"/>
<circle cx="671.3" cy="1998.2" r="4.7"/>
<circle cx="481.8" cy="1983.0" r="4.7"/>
<circle cx="576.4" cy="1896.2" r="4.7"/>
<circle cx="671.3" cy="1936.5" r="4.7"/>
<circle cx="576.4" cy="2067.0" r="4.7"/>
<circle cx="481.8" cy="1984.5" r="4.7"/>
<circle cx="671.3" cy="1814.7" r="4.7"/>
<circle cx="671.3" cy="2012.0" r="4.7"/>
<circle cx="576.4" cy="2000.0" r="4.7"/>
<circle cx="671.3" cy="2078.5" r="4.7"/>
<circle cx="576.4" cy="2006.6" r="4.7"/>
<circle cx="671.3" cy="2105.6" r="4.7"/>
<circle cx="576.4" cy="2080.0" r="4.7"/>
<circle cx="671.3" cy="1960.3" r="4.7"/>
<circle cx="292.3" cy="1998.6" r="4.7"/>
</g>
<path d="M158.8 2020.9L172.5 2020.0L186.2 2019.0L199.9 2018.0L213.5 2017.1L227.2 2016.1L240.9 2015.1L254.6 2014.1L268.3 2013.1L282.0 2012.0L295.7 2010.9L309.3 2009.8L323.0 2008.6L336.7 2007.5L350.4 2006.2L364.1 2004.9L377.8 2003.5L391.4 2002.0L405.1 2000.4L418.8 1998.7L432.5 1996.9L446.2 1994.8L459.9 1992.6L473.6 1990.1L487.2 1987.4L500.9 1984.5L514.6 1981.3L528.3 1978.0L542.0 1974.5L555.7 1970.8L569.4 1967.0L583.0 1963.1L596.7 1959.1L610.4 1955.1L624.1 1950.9L637.8 1946.8L651.5 1942.5L665.1 1938.3L678.8 1934.0L692.5 1929.7L706.2 1925.3" fill="none" stroke="#000" stroke-width="1.7" stroke-dasharray="4.8,3.6"/>
<path d="M158.8 2112.9L172.6 2108.5L186.4 2104.0L200.2 2099.6L214.0 2095.1L227.8 2090.7L241.6 2086.3L255.3 2081.9L269.1 2077.5L282.9 2073.2L296.7 2068.8L310.5 2064.5L324.3 2060.3L338.1 2056.1L351.9 2051.9L365.7 2047.9L379.5 2043.8L393.3 2039.9L407.1 2036.1L420.9 2032.5L434.7 2029.0L448.4 2025.6L462.2 2022.5L476.0 2019.6L489.8 2017.0L503.6 2014.5L517.4 2012.3L531.2 2010.3L545.0 2008.5L558.8 2006.8L572.6 2005.2L586.4 2003.8L600.2 2002.4L614.0 2001.1L627.7 1999.8L641.5 1998.7L655.3 1997.5L669.1 1996.4L682.9 1995.3L696.7 1994.3L710.5 1993.2" fill="none" stroke="#000" stroke-width="1.7" stroke-dasharray="4.8,3.6"/>
<line x1="126.8" y1="2073.2" x2="742.0" y2="1952.4" stroke="#000" stroke-width="3.8" stroke-linecap="round"/>
<rect x="121.8" y="1695.6" width="625.9" height="625.5" fill="none" stroke="#000" stroke-width="1.8"/>
<line x1="150.0" y1="2321.1" x2="150.0" y2="2331.6" stroke="#000" stroke-width="1.7"/>
<text x="150.5" y="2362.7" font-size="28.6" text-anchor="middle" textLength="63.6" lengthAdjust="spacingAndGlyphs">1960</text>
<line x1="244.8" y1="2321.1" x2="244.8" y2="2331.6" stroke="#000" stroke-width="1.7"/>
<text x="245.3" y="2362.7" font-size="28.6" text-anchor="middle" textLength="63.6" lengthAdjust="spacingAndGlyphs">1970</text>
<line x1="339.7" y1="2321.1" x2="339.7" y2="2331.6" stroke="#000" stroke-width="1.7"/>
<text x="340.2" y="2362.7" font-size="28.6" text-anchor="middle" textLength="63.6" lengthAdjust="spacingAndGlyphs">1980</text>
<line x1="434.5" y1="2321.1" x2="434.5" y2="2331.6" stroke="#000" stroke-width="1.7"/>
<text x="435.0" y="2362.7" font-size="28.6" text-anchor="middle" textLength="63.6" lengthAdjust="spacingAndGlyphs">1990</text>
<line x1="529.3" y1="2321.1" x2="529.3" y2="2331.6" stroke="#000" stroke-width="1.7"/>
<text x="529.8" y="2362.7" font-size="28.6" text-anchor="middle" textLength="63.6" lengthAdjust="spacingAndGlyphs">2000</text>
<line x1="624.1" y1="2321.1" x2="624.1" y2="2331.6" stroke="#000" stroke-width="1.7"/>
<text x="624.6" y="2362.7" font-size="28.6" text-anchor="middle" textLength="63.6" lengthAdjust="spacingAndGlyphs">2010</text>
<line x1="719.0" y1="2321.1" x2="719.0" y2="2331.6" stroke="#000" stroke-width="1.7"/>
<text x="719.5" y="2362.7" font-size="28.6" text-anchor="middle" textLength="63.6" lengthAdjust="spacingAndGlyphs">2020</text>
<line x1="111.3" y1="1780.7" x2="121.8" y2="1780.7" stroke="#000" stroke-width="1.7"/>
<text transform="translate(98.2,1776.7) rotate(-90)" font-size="28.6" text-anchor="middle" textLength="47.7" lengthAdjust="spacingAndGlyphs">400</text>
<line x1="111.3" y1="1889.5" x2="121.8" y2="1889.5" stroke="#000" stroke-width="1.7"/>
<text transform="translate(98.2,1885.5) rotate(-90)" font-size="28.6" text-anchor="middle" textLength="47.7" lengthAdjust="spacingAndGlyphs">200</text>
<line x1="111.3" y1="1998.2" x2="121.8" y2="1998.2" stroke="#000" stroke-width="1.7"/>
<text transform="translate(98.2,1994.2) rotate(-90)" font-size="28.6" text-anchor="middle" textLength="15.9" lengthAdjust="spacingAndGlyphs">0</text>
<line x1="111.3" y1="2106.9" x2="121.8" y2="2106.9" stroke="#000" stroke-width="1.7"/>
<text transform="translate(98.2,2102.9) rotate(-90)" font-size="28.6" text-anchor="middle" textLength="63.6" lengthAdjust="spacingAndGlyphs">−200</text>
<line x1="111.3" y1="2215.7" x2="121.8" y2="2215.7" stroke="#000" stroke-width="1.7"/>
<text transform="translate(98.2,2211.7) rotate(-90)" font-size="28.6" text-anchor="middle" textLength="63.6" lengthAdjust="spacingAndGlyphs">−400</text>
<text x="571.7" y="1751.8" font-size="37" font-weight="bold" textLength="22.5" lengthAdjust="spacingAndGlyphs">R</text>
<text x="595.1" y="1737.4" font-size="23" font-weight="bold" textLength="13.5" lengthAdjust="spacingAndGlyphs">2</text>
<text x="617.9" y="1751.8" font-size="37" font-weight="bold" textLength="104.3" lengthAdjust="spacingAndGlyphs">= 0.09</text>
<g fill="none" stroke="#666" stroke-width="1.7">
<path d="M1060.0 2006.1L1131.1 2018.1"/>
<path d="M1154.8 2018.8L1225.9 2011.1"/>
<path d="M1249.2 2006.2L1321.1 1983.6"/>
<path d="M1344.5 1979.3L1415.3 1975.3"/>
<path d="M1438.8 1971.2L1510.5 1950.1"/>
<path d="M1058.1 2087.6L1133.0 2036.7"/>
<path d="M1154.8 2028.7L1225.9 2021.4"/>
<path d="M1249.3 2016.7L1321.0 1994.7"/>
<path d="M1344.3 1989.1L1415.5 1976.6"/>
<path d="M1439.1 1972.2L1510.2 1958.0"/>
<path d="M1058.0 2080.4L1133.1 2028.0"/>
<path d="M1154.8 2019.6L1225.9 2010.7"/>
<path d="M1249.5 2006.4L1320.8 1988.8"/>
<path d="M1344.5 1985.2L1415.3 1981.4"/>
<path d="M1438.9 1977.5L1510.4 1957.4"/>
<path d="M1058.3 2043.9L1132.8 1995.9"/>
<path d="M1154.5 1992.6L1226.2 2012.1"/>
<path d="M1249.4 2012.0L1320.9 1992.1"/>
<path d="M1344.4 1987.0L1415.4 1976.4"/>
<path d="M1439.0 1971.9L1510.3 1955.6"/>
<path d="M1060.2 2064.0L1130.9 2060.4"/>
<path d="M1153.8 2054.7L1226.9 2020.3"/>
<path d="M1249.4 2012.1L1320.9 1992.5"/>
<path d="M1344.5 1988.5L1415.3 1983.6"/>
<path d="M1438.9 1979.6L1510.4 1959.7"/>
<path d="M1060.2 2049.9L1130.9 2051.7"/>
<path d="M1154.0 2047.5L1226.7 2018.0"/>
<path d="M1249.6 2011.3L1320.7 1997.8"/>
<path d="M1344.3 1993.2L1415.5 1979.1"/>
<path d="M1438.8 1973.5L1510.5 1953.2"/>
<path d="M1058.9 2040.8L1132.2 2003.0"/>
<path d="M1154.4 2000.9L1226.3 2021.9"/>
<path d="M1248.6 2020.0L1321.7 1984.4"/>
<path d="M1344.5 1979.3L1415.3 1980.4"/>
<path d="M1438.7 1977.0L1510.6 1954.5"/>
<path d="M1059.9 2034.3L1131.2 2017.5"/>
<path d="M1153.9 2019.4L1226.8 2050.4"/>
<path d="M1249.2 2051.3L1321.1 2027.1"/>
<path d="M1343.1 2017.7L1416.7 1978.9"/>
<path d="M1438.5 1969.0L1510.8 1941.7"/>
<path d="M1059.5 2070.6L1131.6 2044.5"/>
<path d="M1153.0 2034.0L1227.7 1986.1"/>
<path d="M1249.5 1982.3L1320.8 1998.5"/>
<path d="M1344.4 1999.7L1415.4 1990.5"/>
<path d="M1438.9 1985.9L1510.4 1967.4"/>
<path d="M1060.1 2019.0L1131.0 2009.1"/>
<path d="M1154.5 2004.5L1226.2 1986.4"/>
<path d="M1249.6 1981.4L1320.7 1968.5"/>
<path d="M1344.5 1965.5L1415.3 1960.3"/>
<path d="M1438.7 1955.6L1510.6 1931.1"/>
<path d="M1059.0 2070.8L1132.1 2035.6"/>
<path d="M1154.7 2028.3L1226.0 2015.9"/>
<path d="M1248.9 2018.4L1321.4 2048.3"/>
<path d="M1342.4 2046.1L1417.4 1995.1"/>
<path d="M1438.8 1985.1L1510.5 1964.4"/>
<path d="M1059.4 2067.0L1131.7 2039.8"/>
<path d="M1154.8 2034.2L1225.9 2026.0"/>
<path d="M1247.5 2017.6L1322.8 1962.9"/>
<path d="M1343.6 1960.4L1416.2 1989.9"/>
<path d="M1438.7 1990.6L1510.6 1966.6"/>
<path d="M1059.3 2055.6L1131.8 2026.4"/>
<path d="M1154.9 2022.4L1225.8 2025.5"/>
<path d="M1247.8 2019.3L1322.5 1969.4"/>
<path d="M1344.2 1965.5L1415.6 1982.5"/>
<path d="M1438.3 1980.4L1511.0 1947.8"/>
<path d="M1059.5 2038.2L1131.6 2012.1"/>
<path d="M1154.9 2007.8L1225.8 2007.1"/>
<path d="M1249.6 2004.6L1320.7 1990.2"/>
<path d="M1344.4 1989.3L1415.4 1997.6"/>
<path d="M1439.3 1999.2L1510.0 2000.6"/>
<path d="M1059.8 2053.4L1131.3 2034.7"/>
<path d="M1154.8 2030.6L1225.9 2023.9"/>
<path d="M1249.2 2019.1L1321.1 1995.5"/>
<path d="M1344.5 1991.4L1415.3 1988.8"/>
<path d="M1436.9 1981.2L1512.4 1924.7"/>
<path d="M1059.7 2043.8L1131.4 2022.9"/>
<path d="M1154.8 2017.8L1225.9 2007.0"/>
<path d="M1249.6 2003.2L1320.7 1991.1"/>
<path d="M1344.5 1988.0L1415.3 1981.7"/>
<path d="M1438.2 1975.6L1511.1 1941.6"/>
<path d="M1060.0 2021.8L1131.1 2010.0"/>
<path d="M1154.8 2007.0L1225.9 2000.4"/>
<path d="M1249.7 1997.4L1320.6 1986.2"/>
<path d="M1344.1 1981.4L1415.7 1963.2"/>
<path d="M1438.8 1956.7L1510.5 1934.2"/>
<path d="M1060.2 2020.6L1130.9 2014.3"/>
<path d="M1154.9 2012.6L1225.8 2008.8"/>
<path d="M1249.4 2005.0L1320.9 1985.4"/>
<path d="M1344.4 1980.4L1415.4 1969.3"/>
<path d="M1438.3 1962.8L1511.0 1931.4"/>
<path d="M1059.7 2050.5L1131.4 2028.3"/>
<path d="M1154.9 2023.8L1225.8 2018.0"/>
<path d="M1249.4 2013.8L1320.9 1994.4"/>
<path d="M1344.4 1989.8L1415.4 1980.9"/>
<path d="M1438.8 1976.0L1510.5 1954.5"/>
<path d="M1059.3 2065.2L1131.8 2036.3"/>
<path d="M1154.8 2030.0L1225.9 2018.9"/>
<path d="M1249.3 2013.6L1321.0 1992.6"/>
<path d="M1344.5 1988.5L1415.3 1984.1"/>
<path d="M1438.9 1980.2L1510.4 1961.2"/>
<path d="M1060.1 2042.7L1131.0 2031.4"/>
<path d="M1154.2 2025.6L1226.5 2000.6"/>
<path d="M1249.6 1994.4L1320.7 1980.6"/>
<path d="M1344.5 1978.0L1415.3 1976.2"/>
<path d="M1438.6 1971.8L1510.7 1946.0"/>
<path d="M1060.0 2047.0L1131.1 2032.3"/>
<path d="M1154.8 2028.4L1225.9 2019.3"/>
<path d="M1249.2 2014.0L1321.1 1989.7"/>
<path d="M1344.5 1986.6L1415.3 1990.5"/>
<path d="M1438.3 1986.4L1511.0 1955.1"/>
<path d="M1059.9 2035.4L1131.2 2019.4"/>
<path d="M1154.9 2015.7L1225.8 2009.4"/>
<path d="M1248.8 2003.7L1321.5 1972.6"/>
<path d="M1344.5 1968.2L1415.3 1970.2"/>
<path d="M1438.8 1967.1L1510.5 1945.2"/>
<path d="M1060.1 2026.2L1131.0 2017.4"/>
<path d="M1154.9 2014.9L1225.8 2008.7"/>
<path d="M1249.5 2005.0L1320.8 1989.1"/>
<path d="M1344.0 1983.1L1415.8 1962.6"/>
<path d="M1438.6 1955.2L1510.7 1929.7"/>
<path d="M1059.9 2043.4L1131.2 2028.2"/>
<path d="M1154.4 2022.1L1226.3 1999.6"/>
<path d="M1249.8 1995.3L1320.5 1991.1"/>
<path d="M1344.2 1987.7L1415.6 1971.0"/>
<path d="M1438.9 1965.2L1510.4 1946.4"/>
<path d="M1060.1 2022.4L1131.0 2014.8"/>
<path d="M1154.8 2011.7L1225.9 2000.8"/>
<path d="M1249.5 1996.3L1320.8 1979.6"/>
<path d="M1344.4 1975.7L1415.4 1968.6"/>
<path d="M1438.2 1962.3L1511.1 1928.4"/>
<path d="M1059.7 2052.4L1131.4 2031.6"/>
<path d="M1154.7 2026.2L1226.0 2013.6"/>
<path d="M1249.7 2010.3L1320.6 2002.7"/>
<path d="M1344.0 1997.9L1415.8 1975.6"/>
<path d="M1438.9 1969.1L1510.4 1951.2"/>
<path d="M1059.9 2041.8L1131.2 2027.0"/>
<path d="M1154.8 2023.1L1225.9 2014.2"/>
<path d="M1249.4 2009.7L1320.9 1991.5"/>
<path d="M1344.2 1986.1L1415.6 1971.1"/>
<path d="M1438.6 1964.4L1510.7 1937.6"/>
<path d="M1059.7 2049.4L1131.4 2028.9"/>
<path d="M1154.8 2023.9L1225.9 2013.5"/>
<path d="M1249.7 2010.1L1320.6 2000.2"/>
<path d="M1344.4 1997.1L1415.4 1988.6"/>
<path d="M1438.9 1984.1L1510.4 1964.7"/>
<path d="M1059.8 2029.1L1131.3 2010.9"/>
<path d="M1154.9 2008.2L1225.8 2009.1"/>
<path d="M1249.5 2006.8L1320.8 1991.3"/>
<path d="M1344.1 1985.8L1415.7 1968.0"/>
<path d="M1438.9 1961.9L1510.4 1942.0"/>
<path d="M1059.3 2059.2L1131.8 2029.6"/>
<path d="M1154.9 2025.8L1225.8 2030.4"/>
<path d="M1249.0 2026.7L1321.3 1998.3"/>
<path d="M1344.4 1992.7L1415.4 1985.8"/>
<path d="M1439.0 1981.9L1510.3 1964.6"/>
<path d="M1059.2 2059.2L1131.9 2028.1"/>
<path d="M1154.9 2023.5L1225.8 2024.1"/>
<path d="M1249.4 2021.0L1320.9 2001.4"/>
<path d="M1344.4 1997.0L1415.4 1989.7"/>
<path d="M1438.4 1983.9L1510.9 1954.7"/>
<path d="M1059.8 2038.4L1131.3 2019.5"/>
<path d="M1154.8 2015.3L1225.9 2008.7"/>
<path d="M1249.6 2005.3L1320.7 1991.5"/>
<path d="M1344.3 1986.8L1415.5 1972.2"/>
<path d="M1438.0 1964.4L1511.3 1927.7"/>
<path d="M1060.2 2029.5L1130.9 2024.7"/>
<path d="M1154.8 2022.4L1225.9 2013.5"/>
<path d="M1249.2 2008.3L1321.1 1984.5"/>
<path d="M1344.5 1979.9L1415.3 1975.1"/>
<path d="M1438.7 1970.6L1510.6 1947.1"/>
<path d="M1059.5 2053.4L1131.6 2028.5"/>
<path d="M1154.9 2024.0L1225.8 2021.0"/>
<path d="M1249.4 2017.4L1320.9 1998.8"/>
<path d="M1344.4 1994.6L1415.4 1987.2"/>
<path d="M1438.2 1981.0L1511.1 1947.8"/>
<path d="M1059.8 2048.8L1131.3 2031.1"/>
<path d="M1154.7 2026.2L1226.0 2013.6"/>
<path d="M1249.7 2010.0L1320.6 2001.0"/>
<path d="M1344.3 1997.2L1415.5 1983.1"/>
<path d="M1439.0 1978.0L1510.3 1960.9"/>
<path d="M1059.8 2041.4L1131.3 2022.1"/>
<path d="M1154.9 2018.2L1225.8 2014.1"/>
<path d="M1249.6 2011.2L1320.7 1997.7"/>
<path d="M1344.3 1993.0L1415.5 1978.7"/>
<path d="M1438.7 1972.6L1510.6 1948.6"/>
<path d="M1059.5 2059.6L1131.6 2032.9"/>
<path d="M1154.9 2027.7L1225.8 2021.5"/>
<path d="M1249.5 2018.0L1320.8 2002.9"/>
<path d="M1344.2 1997.9L1415.6 1982.6"/>
<path d="M1439.0 1977.3L1510.3 1959.9"/>
<path d="M1059.5 2065.7L1131.6 2039.3"/>
<path d="M1154.9 2034.2L1225.8 2028.9"/>
<path d="M1249.1 2024.1L1321.2 1999.4"/>
<path d="M1344.4 1993.8L1415.4 1983.9"/>
<path d="M1438.7 1978.6L1510.6 1955.9"/>
<path d="M1059.7 2039.2L1131.4 2017.6"/>
<path d="M1154.8 2012.7L1225.9 2004.4"/>
<path d="M1249.4 1999.9L1320.9 1981.0"/>
<path d="M1344.4 1976.3L1415.4 1966.7"/>
<path d="M1438.7 1961.4L1510.6 1938.5"/>
<path d="M1059.6 2026.4L1131.5 2002.9"/>
<path d="M1154.9 1999.9L1225.8 2003.9"/>
<path d="M1249.2 2001.0L1321.1 1978.2"/>
<path d="M1344.3 1972.6L1415.5 1960.1"/>
<path d="M1438.8 1954.7L1510.5 1934.2"/>
<path d="M1060.1 2028.3L1131.0 2018.3"/>
<path d="M1154.9 2016.1L1225.8 2013.4"/>
<path d="M1249.2 2009.3L1321.1 1986.1"/>
<path d="M1344.5 1982.0L1415.3 1979.3"/>
<path d="M1438.6 1974.8L1510.7 1948.7"/>
<path d="M1059.9 2058.4L1131.2 2040.9"/>
<path d="M1154.8 2036.2L1225.9 2025.7"/>
<path d="M1249.3 2020.4L1321.0 1998.0"/>
<path d="M1344.3 1992.1L1415.5 1977.4"/>
<path d="M1439.1 1973.0L1510.2 1961.4"/>
<path d="M1059.6 2064.6L1131.5 2039.9"/>
<path d="M1154.9 2036.2L1225.8 2037.0"/>
<path d="M1248.4 2031.5L1321.9 1992.8"/>
<path d="M1344.5 1987.8L1415.3 1991.9"/>
<path d="M1439.1 1990.6L1510.2 1978.7"/>
<path d="M1060.1 2034.7L1131.0 2024.9"/>
<path d="M1154.7 2020.9L1226.0 2006.8"/>
<path d="M1249.5 2001.9L1320.8 1985.8"/>
<path d="M1344.4 1981.9L1415.4 1974.5"/>
<path d="M1438.1 1967.9L1511.2 1931.9"/>
<path d="M1059.9 2045.6L1131.2 2029.8"/>
<path d="M1154.8 2025.4L1225.9 2014.7"/>
<path d="M1249.3 2009.6L1321.0 1988.6"/>
<path d="M1344.4 1983.7L1415.4 1974.2"/>
<path d="M1438.7 1968.9L1510.6 1945.6"/>
<circle cx="1048.2" cy="2004.1" r="4.7"/>
<circle cx="1142.9" cy="2020.1" r="4.7"/>
<circle cx="1237.8" cy="2009.8" r="4.7"/>
<circle cx="1332.5" cy="1980.0" r="4.7"/>
<circle cx="1427.3" cy="1974.6" r="4.7"/>
<circle cx="1522.0" cy="1946.7" r="4.7"/>
<circle cx="1048.2" cy="2094.3" r="4.7"/>
<circle cx="1142.9" cy="2029.9" r="4.7"/>
<circle cx="1237.8" cy="2020.2" r="4.7"/>
<circle cx="1332.5" cy="1991.2" r="4.7"/>
<circle cx="1427.3" cy="1974.5" r="4.7"/>
<circle cx="1522.0" cy="1955.6" r="4.7"/>
<circle cx="1048.2" cy="2087.3" r="4.7"/>
<circle cx="1142.9" cy="2021.1" r="4.7"/>
<circle cx="1237.8" cy="2009.2" r="4.7"/>
<circle cx="1332.5" cy="1985.9" r="4.7"/>
<circle cx="1427.3" cy="1980.7" r="4.7"/>
<circle cx="1522.0" cy="1954.1" r="4.7"/>
<circle cx="1048.2" cy="2050.3" r="4.7"/>
<circle cx="1142.9" cy="1989.4" r="4.7"/>
<circle cx="1237.8" cy="2015.3" r="4.7"/>
<circle cx="1332.5" cy="1988.8" r="4.7"/>
<circle cx="1427.3" cy="1974.6" r="4.7"/>
<circle cx="1522.0" cy="1952.9" r="4.7"/>
<circle cx="1048.2" cy="2064.6" r="4.7"/>
<circle cx="1142.9" cy="2059.8" r="4.7"/>
<circle cx="1237.8" cy="2015.2" r="4.7"/>
<circle cx="1332.5" cy="1989.3" r="4.7"/>
<circle cx="1427.3" cy="1982.8" r="4.7"/>
<circle cx="1522.0" cy="1956.5" r="4.7"/>
<circle cx="1048.2" cy="2049.5" r="4.7"/>
<circle cx="1142.9" cy="2052.0" r="4.7"/>
<circle cx="1237.8" cy="2013.5" r="4.7"/>
<circle cx="1332.5" cy="1995.6" r="4.7"/>
<circle cx="1427.3" cy="1976.7" r="4.7"/>
<circle cx="1522.0" cy="1950.0" r="4.7"/>
<circle cx="1048.2" cy="2046.3" r="4.7"/>
<circle cx="1142.9" cy="1997.5" r="4.7"/>
<circle cx="1237.8" cy="2025.2" r="4.7"/>
<circle cx="1332.5" cy="1979.1" r="4.7"/>
<circle cx="1427.3" cy="1980.6" r="4.7"/>
<circle cx="1522.0" cy="1950.9" r="4.7"/>
<circle cx="1048.2" cy="2037.1" r="4.7"/>
<circle cx="1142.9" cy="2014.7" r="4.7"/>
<circle cx="1237.8" cy="2055.1" r="4.7"/>
<circle cx="1332.5" cy="2023.3" r="4.7"/>
<circle cx="1427.3" cy="1973.2" r="4.7"/>
<circle cx="1522.0" cy="1937.5" r="4.7"/>
<circle cx="1048.2" cy="2074.7" r="4.7"/>
<circle cx="1142.9" cy="2040.4" r="4.7"/>
<circle cx="1237.8" cy="1979.6" r="4.7"/>
<circle cx="1332.5" cy="2001.2" r="4.7"/>
<circle cx="1427.3" cy="1988.9" r="4.7"/>
<circle cx="1522.0" cy="1964.3" r="4.7"/>
<circle cx="1048.2" cy="2020.7" r="4.7"/>
<circle cx="1142.9" cy="2007.4" r="4.7"/>
<circle cx="1237.8" cy="1983.5" r="4.7"/>
<circle cx="1332.5" cy="1966.3" r="4.7"/>
<circle cx="1427.3" cy="1959.4" r="4.7"/>
<circle cx="1522.0" cy="1927.2" r="4.7"/>
<circle cx="1048.2" cy="2076.0" r="4.7"/>
<circle cx="1142.9" cy="2030.4" r="4.7"/>
<circle cx="1237.8" cy="2013.9" r="4.7"/>
<circle cx="1332.5" cy="2052.9" r="4.7"/>
<circle cx="1427.3" cy="1988.4" r="4.7"/>
<circle cx="1522.0" cy="1961.1" r="4.7"/>
<circle cx="1048.2" cy="2071.2" r="4.7"/>
<circle cx="1142.9" cy="2035.5" r="4.7"/>
<circle cx="1237.8" cy="2024.6" r="4.7"/>
<circle cx="1332.5" cy="1955.9" r="4.7"/>
<circle cx="1427.3" cy="1994.5" r="4.7"/>
<circle cx="1522.0" cy="1962.8" r="4.7"/>
<circle cx="1048.2" cy="2060.1" r="4.7"/>
<circle cx="1142.9" cy="2021.9" r="4.7"/>
<circle cx="1237.8" cy="2026.0" r="4.7"/>
<circle cx="1332.5" cy="1962.7" r="4.7"/>
<circle cx="1427.3" cy="1985.3" r="4.7"/>
<circle cx="1522.0" cy="1942.9" r="4.7"/>
<circle cx="1048.2" cy="2042.3" r="4.7"/>
<circle cx="1142.9" cy="2008.0" r="4.7"/>
<circle cx="1237.8" cy="2007.0" r="4.7"/>
<circle cx="1332.5" cy="1987.9" r="4.7"/>
<circle cx="1427.3" cy="1999.0" r="4.7"/>
<circle cx="1522.0" cy="2000.8" r="4.7"/>
<circle cx="1048.2" cy="2056.5" r="4.7"/>
<circle cx="1142.9" cy="2031.7" r="4.7"/>
<circle cx="1237.8" cy="2022.8" r="4.7"/>
<circle cx="1332.5" cy="1991.8" r="4.7"/>
<circle cx="1427.3" cy="1988.4" r="4.7"/>
<circle cx="1522.0" cy="1917.5" r="4.7"/>
<circle cx="1048.2" cy="2047.2" r="4.7"/>
<circle cx="1142.9" cy="2019.6" r="4.7"/>
<circle cx="1237.8" cy="2005.2" r="4.7"/>
<circle cx="1332.5" cy="1989.1" r="4.7"/>
<circle cx="1427.3" cy="1980.7" r="4.7"/>
<circle cx="1522.0" cy="1936.6" r="4.7"/>
<circle cx="1048.2" cy="2023.7" r="4.7"/>
<circle cx="1142.9" cy="2008.1" r="4.7"/>
<circle cx="1237.8" cy="1999.3" r="4.7"/>
<circle cx="1332.5" cy="1984.4" r="4.7"/>
<circle cx="1427.3" cy="1960.3" r="4.7"/>
<circle cx="1522.0" cy="1930.6" r="4.7"/>
<circle cx="1048.2" cy="2021.7" r="4.7"/>
<circle cx="1142.9" cy="2013.2" r="4.7"/>
<circle cx="1237.8" cy="2008.2" r="4.7"/>
<circle cx="1332.5" cy="1982.2" r="4.7"/>
<circle cx="1427.3" cy="1967.5" r="4.7"/>
<circle cx="1522.0" cy="1926.7" r="4.7"/>
<circle cx="1048.2" cy="2054.0" r="4.7"/>
<circle cx="1142.9" cy="2024.8" r="4.7"/>
<circle cx="1237.8" cy="2017.0" r="4.7"/>
<circle cx="1332.5" cy="1991.3" r="4.7"/>
<circle cx="1427.3" cy="1979.5" r="4.7"/>
<circle cx="1522.0" cy="1951.1" r="4.7"/>
<circle cx="1048.2" cy="2069.7" r="4.7"/>
<circle cx="1142.9" cy="2031.8" r="4.7"/>
<circle cx="1237.8" cy="2017.0" r="4.7"/>
<circle cx="1332.5" cy="1989.2" r="4.7"/>
<circle cx="1427.3" cy="1983.3" r="4.7"/>
<circle cx="1522.0" cy="1958.1" r="4.7"/>
<circle cx="1048.2" cy="2044.6" r="4.7"/>
<circle cx="1142.9" cy="2029.5" r="4.7"/>
<circle cx="1237.8" cy="1996.7" r="4.7"/>
<circle cx="1332.5" cy="1978.3" r="4.7"/>
<circle cx="1427.3" cy="1975.9" r="4.7"/>
<circle cx="1522.0" cy="1941.9" r="4.7"/>
<circle cx="1048.2" cy="2049.5" r="4.7"/>
<circle cx="1142.9" cy="2029.9" r="4.7"/>
<circle cx="1237.8" cy="2017.8" r="4.7"/>
<circle cx="1332.5" cy="1985.9" r="4.7"/>
<circle cx="1427.3" cy="1991.2" r="4.7"/>
<circle cx="1522.0" cy="1950.4" r="4.7"/>
<circle cx="1048.2" cy="2038.0" r="4.7"/>
<circle cx="1142.9" cy="2016.8" r="4.7"/>
<circle cx="1237.8" cy="2008.4" r="4.7"/>
<circle cx="1332.5" cy="1967.8" r="4.7"/>
<circle cx="1427.3" cy="1970.5" r="4.7"/>
<circle cx="1522.0" cy="1941.7" r="4.7"/>
<circle cx="1048.2" cy="2027.7" r="4.7"/>
<circle cx="1142.9" cy="2015.9" r="4.7"/>
<circle cx="1237.8" cy="2007.6" r="4.7"/>
<circle cx="1332.5" cy="1986.4" r="4.7"/>
<circle cx="1427.3" cy="1959.2" r="4.7"/>
<circle cx="1522.0" cy="1925.7" r="4.7"/>
<circle cx="1048.2" cy="2045.9" r="4.7"/>
<circle cx="1142.9" cy="2025.7" r="4.7"/>
<circle cx="1237.8" cy="1996.0" r="4.7"/>
<circle cx="1332.5" cy="1990.4" r="4.7"/>
<circle cx="1427.3" cy="1968.2" r="4.7"/>
<circle cx="1522.0" cy="1943.3" r="4.7"/>
<circle cx="1048.2" cy="2023.7" r="4.7"/>
<circle cx="1142.9" cy="2013.6" r="4.7"/>
<circle cx="1237.8" cy="1999.0" r="4.7"/>
<circle cx="1332.5" cy="1976.9" r="4.7"/>
<circle cx="1427.3" cy="1967.4" r="4.7"/>
<circle cx="1522.0" cy="1923.3" r="4.7"/>
<circle cx="1048.2" cy="2055.7" r="4.7"/>
<circle cx="1142.9" cy="2028.3" r="4.7"/>
<circle cx="1237.8" cy="2011.5" r="4.7"/>
<circle cx="1332.5" cy="2001.4" r="4.7"/>
<circle cx="1427.3" cy="1972.0" r="4.7"/>
<circle cx="1522.0" cy="1948.2" r="4.7"/>
<circle cx="1048.2" cy="2044.3" r="4.7"/>
<circle cx="1142.9" cy="2024.6" r="4.7"/>
<circle cx="1237.8" cy="2012.7" r="4.7"/>
<circle cx="1332.5" cy="1988.5" r="4.7"/>
<circle cx="1427.3" cy="1968.6" r="4.7"/>
<circle cx="1522.0" cy="1933.5" r="4.7"/>
<circle cx="1048.2" cy="2052.7" r="4.7"/>
<circle cx="1142.9" cy="2025.6" r="4.7"/>
<circle cx="1237.8" cy="2011.8" r="4.7"/>
<circle cx="1332.5" cy="1998.6" r="4.7"/>
<circle cx="1427.3" cy="1987.2" r="4.7"/>
<circle cx="1522.0" cy="1961.6" r="4.7"/>
<circle cx="1048.2" cy="2032.1" r="4.7"/>
<circle cx="1142.9" cy="2008.0" r="4.7"/>
<circle cx="1237.8" cy="2009.3" r="4.7"/>
<circle cx="1332.5" cy="1988.7" r="4.7"/>
<circle cx="1427.3" cy="1965.1" r="4.7"/>
<circle cx="1522.0" cy="1938.7" r="4.7"/>
<circle cx="1048.2" cy="2063.7" r="4.7"/>
<circle cx="1142.9" cy="2025.0" r="4.7"/>
<circle cx="1237.8" cy="2031.1" r="4.7"/>
<circle cx="1332.5" cy="1993.9" r="4.7"/>
<circle cx="1427.3" cy="1984.7" r="4.7"/>
<circle cx="1522.0" cy="1961.8" r="4.7"/>
<circle cx="1048.2" cy="2064.0" r="4.7"/>
<circle cx="1142.9" cy="2023.4" r="4.7"/>
<circle cx="1237.8" cy="2024.1" r="4.7"/>
<circle cx="1332.5" cy="1998.3" r="4.7"/>
<circle cx="1427.3" cy="1988.4" r="4.7"/>
<circle cx="1522.0" cy="1950.2" r="4.7"/>
<circle cx="1048.2" cy="2041.5" r="4.7"/>
<circle cx="1142.9" cy="2016.4" r="4.7"/>
<circle cx="1237.8" cy="2007.6" r="4.7"/>
<circle cx="1332.5" cy="1989.3" r="4.7"/>
<circle cx="1427.3" cy="1969.7" r="4.7"/>
<circle cx="1522.0" cy="1922.4" r="4.7"/>
<circle cx="1048.2" cy="2030.3" r="4.7"/>
<circle cx="1142.9" cy="2023.8" r="4.7"/>
<circle cx="1237.8" cy="2012.1" r="4.7"/>
<circle cx="1332.5" cy="1980.7" r="4.7"/>
<circle cx="1427.3" cy="1974.3" r="4.7"/>
<circle cx="1522.0" cy="1943.4" r="4.7"/>
<circle cx="1048.2" cy="2057.3" r="4.7"/>
<circle cx="1142.9" cy="2024.6" r="4.7"/>
<circle cx="1237.8" cy="2020.5" r="4.7"/>
<circle cx="1332.5" cy="1995.8" r="4.7"/>
<circle cx="1427.3" cy="1986.0" r="4.7"/>
<circle cx="1522.0" cy="1942.8" r="4.7"/>
<circle cx="1048.2" cy="2051.7" r="4.7"/>
<circle cx="1142.9" cy="2028.3" r="4.7"/>
<circle cx="1237.8" cy="2011.6" r="4.7"/>
<circle cx="1332.5" cy="1999.5" r="4.7"/>
<circle cx="1427.3" cy="1980.8" r="4.7"/>
<circle cx="1522.0" cy="1958.1" r="4.7"/>
<circle cx="1048.2" cy="2044.6" r="4.7"/>
<circle cx="1142.9" cy="2018.9" r="4.7"/>
<circle cx="1237.8" cy="2013.5" r="4.7"/>
<circle cx="1332.5" cy="1995.4" r="4.7"/>
<circle cx="1427.3" cy="1976.4" r="4.7"/>
<circle cx="1522.0" cy="1944.8" r="4.7"/>
<circle cx="1048.2" cy="2063.8" r="4.7"/>
<circle cx="1142.9" cy="2028.7" r="4.7"/>
<circle cx="1237.8" cy="2020.5" r="4.7"/>
<circle cx="1332.5" cy="2000.4" r="4.7"/>
<circle cx="1427.3" cy="1980.1" r="4.7"/>
<circle cx="1522.0" cy="1957.0" r="4.7"/>
<circle cx="1048.2" cy="2069.9" r="4.7"/>
<circle cx="1142.9" cy="2035.1" r="4.7"/>
<circle cx="1237.8" cy="2028.0" r="4.7"/>
<circle cx="1332.5" cy="1995.5" r="4.7"/>
<circle cx="1427.3" cy="1982.3" r="4.7"/>
<circle cx="1522.0" cy="1952.3" r="4.7"/>
<circle cx="1048.2" cy="2042.7" r="4.7"/>
<circle cx="1142.9" cy="2014.1" r="4.7"/>
<circle cx="1237.8" cy="2003.0" r="4.7"/>
<circle cx="1332.5" cy="1978.0" r="4.7"/>
<circle cx="1427.3" cy="1965.0" r="4.7"/>
<circle cx="1522.0" cy="1934.8" r="4.7"/>
<circle cx="1048.2" cy="2030.1" r="4.7"/>
<circle cx="1142.9" cy="1999.2" r="4.7"/>
<circle cx="1237.8" cy="2004.6" r="4.7"/>
<circle cx="1332.5" cy="1974.6" r="4.7"/>
<circle cx="1427.3" cy="1958.1" r="4.7"/>
<circle cx="1522.0" cy="1930.9" r="4.7"/>
<circle cx="1048.2" cy="2029.9" r="4.7"/>
<circle cx="1142.9" cy="2016.6" r="4.7"/>
<circle cx="1237.8" cy="2013.0" r="4.7"/>
<circle cx="1332.5" cy="1982.4" r="4.7"/>
<circle cx="1427.3" cy="1978.9" r="4.7"/>
<circle cx="1522.0" cy="1944.6" r="4.7"/>
<circle cx="1048.2" cy="2061.3" r="4.7"/>
<circle cx="1142.9" cy="2038.0" r="4.7"/>
<circle cx="1237.8" cy="2024.0" r="4.7"/>
<circle cx="1332.5" cy="1994.5" r="4.7"/>
<circle cx="1427.3" cy="1975.0" r="4.7"/>
<circle cx="1522.0" cy="1959.5" r="4.7"/>
<circle cx="1048.2" cy="2068.5" r="4.7"/>
<circle cx="1142.9" cy="2036.1" r="4.7"/>
<circle cx="1237.8" cy="2037.1" r="4.7"/>
<circle cx="1332.5" cy="1987.2" r="4.7"/>
<circle cx="1427.3" cy="1992.5" r="4.7"/>
<circle cx="1522.0" cy="1976.8" r="4.7"/>
<circle cx="1048.2" cy="2036.4" r="4.7"/>
<circle cx="1142.9" cy="2023.2" r="4.7"/>
<circle cx="1237.8" cy="2004.5" r="4.7"/>
<circle cx="1332.5" cy="1983.1" r="4.7"/>
<circle cx="1427.3" cy="1973.2" r="4.7"/>
<circle cx="1522.0" cy="1926.6" r="4.7"/>
<circle cx="1048.2" cy="2048.2" r="4.7"/>
<circle cx="1142.9" cy="2027.1" r="4.7"/>
<circle cx="1237.8" cy="2013.0" r="4.7"/>
<circle cx="1332.5" cy="1985.3" r="4.7"/>
<circle cx="1427.3" cy="1972.6" r="4.7"/>
<circle cx="1522.0" cy="1941.9" r="4.7"/>
</g>
<path d="M1009.4 2050.1 Q 1282.5 2001.5 1555.5 1942.5" fill="none" stroke="#000" stroke-width="1.7" stroke-dasharray="4.8,3.6"/>
<path d="M1009.4 2059.1 Q 1282.5 2000.5 1555.5 1952.5" fill="none" stroke="#000" stroke-width="1.7" stroke-dasharray="4.8,3.6"/>
<line x1="977.1" y1="2060.9" x2="1592.5" y2="1940.3" stroke="#000" stroke-width="3.8" stroke-linecap="round"/>
<rect x="972.6" y="1695.6" width="625.7" height="625.5" fill="none" stroke="#000" stroke-width="1.8"/>
<line x1="1000.7" y1="2321.1" x2="1000.7" y2="2331.6" stroke="#000" stroke-width="1.7"/>
<text x="999.6" y="2362.7" font-size="28.6" text-anchor="middle" textLength="63.6" lengthAdjust="spacingAndGlyphs">1960</text>
<line x1="1095.5" y1="2321.1" x2="1095.5" y2="2331.6" stroke="#000" stroke-width="1.7"/>
<text x="1094.2" y="2362.7" font-size="28.6" text-anchor="middle" textLength="63.6" lengthAdjust="spacingAndGlyphs">1970</text>
<line x1="1190.4" y1="2321.1" x2="1190.4" y2="2331.6" stroke="#000" stroke-width="1.7"/>
<text x="1188.9" y="2362.7" font-size="28.6" text-anchor="middle" textLength="63.6" lengthAdjust="spacingAndGlyphs">1980</text>
<line x1="1285.2" y1="2321.1" x2="1285.2" y2="2331.6" stroke="#000" stroke-width="1.7"/>
<text x="1283.5" y="2362.7" font-size="28.6" text-anchor="middle" textLength="63.6" lengthAdjust="spacingAndGlyphs">1990</text>
<line x1="1380.0" y1="2321.1" x2="1380.0" y2="2331.6" stroke="#000" stroke-width="1.7"/>
<text x="1378.1" y="2362.7" font-size="28.6" text-anchor="middle" textLength="63.6" lengthAdjust="spacingAndGlyphs">2000</text>
<line x1="1474.8" y1="2321.1" x2="1474.8" y2="2331.6" stroke="#000" stroke-width="1.7"/>
<text x="1472.8" y="2362.7" font-size="28.6" text-anchor="middle" textLength="63.6" lengthAdjust="spacingAndGlyphs">2010</text>
<line x1="1569.7" y1="2321.1" x2="1569.7" y2="2331.6" stroke="#000" stroke-width="1.7"/>
<text x="1567.4" y="2362.7" font-size="28.6" text-anchor="middle" textLength="63.6" lengthAdjust="spacingAndGlyphs">2020</text>
<line x1="962.1" y1="1780.7" x2="972.6" y2="1780.7" stroke="#000" stroke-width="1.7"/>
<text transform="translate(947.0,1777.9) rotate(-90)" font-size="28.6" text-anchor="middle" textLength="47.7" lengthAdjust="spacingAndGlyphs">400</text>
<line x1="962.1" y1="1889.5" x2="972.6" y2="1889.5" stroke="#000" stroke-width="1.7"/>
<text transform="translate(947.0,1886.7) rotate(-90)" font-size="28.6" text-anchor="middle" textLength="47.7" lengthAdjust="spacingAndGlyphs">200</text>
<line x1="962.1" y1="1998.2" x2="972.6" y2="1998.2" stroke="#000" stroke-width="1.7"/>
<text transform="translate(947.0,1995.4) rotate(-90)" font-size="28.6" text-anchor="middle" textLength="15.9" lengthAdjust="spacingAndGlyphs">0</text>
<line x1="962.1" y1="2106.9" x2="972.6" y2="2106.9" stroke="#000" stroke-width="1.7"/>
<text transform="translate(947.0,2104.1) rotate(-90)" font-size="28.6" text-anchor="middle" textLength="63.6" lengthAdjust="spacingAndGlyphs">−200</text>
<line x1="962.1" y1="2215.7" x2="972.6" y2="2215.7" stroke="#000" stroke-width="1.7"/>
<text transform="translate(947.0,2212.9) rotate(-90)" font-size="28.6" text-anchor="middle" textLength="63.6" lengthAdjust="spacingAndGlyphs">−400</text>
<text x="1421.0" y="1751.7" font-size="37" font-weight="bold" textLength="22.5" lengthAdjust="spacingAndGlyphs">R</text>
<text x="1444.4" y="1737.3" font-size="23" font-weight="bold" textLength="13.5" lengthAdjust="spacingAndGlyphs">2</text>
<text x="1467.2" y="1751.7" font-size="37" font-weight="bold" textLength="104.3" lengthAdjust="spacingAndGlyphs">= 0.77</text>
<text x="434.6" y="2418.8" font-size="38" font-weight="bold" text-anchor="middle" textLength="127.0" lengthAdjust="spacingAndGlyphs">Decade</text>
<text transform="translate(38.6,2009.2) rotate(-90)" font-size="38" font-weight="bold" text-anchor="middle" textLength="336.0" lengthAdjust="spacingAndGlyphs">Altitudinal shift [m]</text>
<text x="1285.4" y="2418.8" font-size="38" font-weight="bold" text-anchor="middle" textLength="127.0" lengthAdjust="spacingAndGlyphs">Decade</text>
<text transform="translate(888.9,2008.3) rotate(-90)" font-size="38" font-weight="bold" text-anchor="middle" textLength="336.0" lengthAdjust="spacingAndGlyphs">Altitudinal shift [m]</text>
</svg>
</body></html>
